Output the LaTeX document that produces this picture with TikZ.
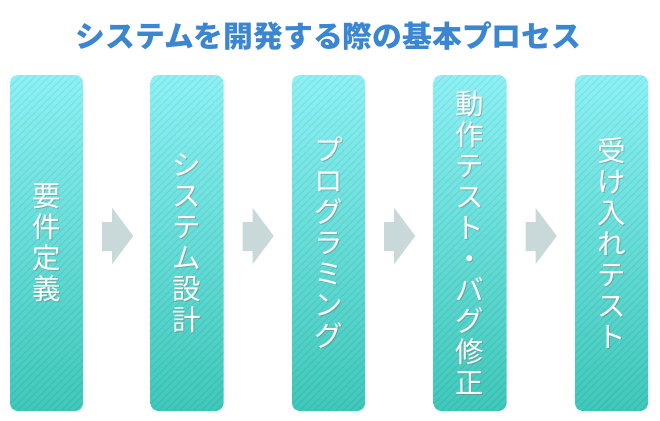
\documentclass[tikz,border=0pt]{standalone}
\usepackage{fontspec}
\newfontfamily\cjk{Noto Sans CJK JP}
\usetikzlibrary{calc}
\definecolor{titleblue}{HTML}{3A86D0}
\definecolor{boxtop}{HTML}{8CF1F5}
\definecolor{boxbot}{HTML}{3FC8BA}
\definecolor{arrowc}{HTML}{C9D9DA}
\tikzset{
  box/.style={rounded corners=8pt, minimum width=73pt, minimum height=336pt,
    inner sep=0pt, top color=boxtop, bottom color=boxbot,
    path picture={\foreach \i in {-50,...,12}
      \draw[black, opacity=0.07, line width=0.9pt]
        ($(path picture bounding box.south west)+(\i*7.2pt,0pt)$) -- ++(340pt,340pt);}},
  lbl/.style={text=white, align=center, inner sep=0pt,
    font=\cjk\fontsize{28.5}{31}\selectfont},
  lblsh/.style={lbl, text=black!55, opacity=0.45},
  titlestyle/.style={text=titleblue, inner sep=0pt,
    font=\cjk\bfseries\fontsize{29.8}{34}\selectfont},
  blockarrow/.style={fill=arrowc}
}
\begin{document}
\begin{tikzpicture}[x=1pt,y=-1pt]
\useasboundingbox (0,0) rectangle (660,420);
\node[titlestyle] (title) at (328.5,36) {システムを開発する際の基本プロセス};
\node[box] (b1) at (46.5,243) {};
\node[box] (b2) at (187,243) {};
\node[box] (b3) at (328.5,243) {};
\node[box] (b4) at (470,243) {};
\node[box] (b5) at (611.5,243) {};
\foreach \n/\t in {b1/{要\\件\\定\\義}, b2/{シ\\ス\\テ\\ム\\設\\計},
  b3/{プ\\ロ\\グ\\ラ\\ミ\\ン\\グ}, b4/{動\\作\\テ\\ス\\ト\\・\\バ\\グ\\修\\正},
  b5/{受\\け\\入\\れ\\テ\\ス\\ト}} {
  \node[lblsh] (\n s) at ($(\n)+(0.9pt,-0.9pt)$) {\t};
  \node[lbl] (\n t) at (\n) {\t};
}
\foreach \n in {b1,b2,b3,b4} {
  \fill[blockarrow, shift={(\n.east)}] (19,-21) -- (29,-21) -- (29,-35) -- (50,-7)
    -- (29,21) -- (29,8) -- (19,8) -- cycle;
}
\end{tikzpicture}
\end{document}
